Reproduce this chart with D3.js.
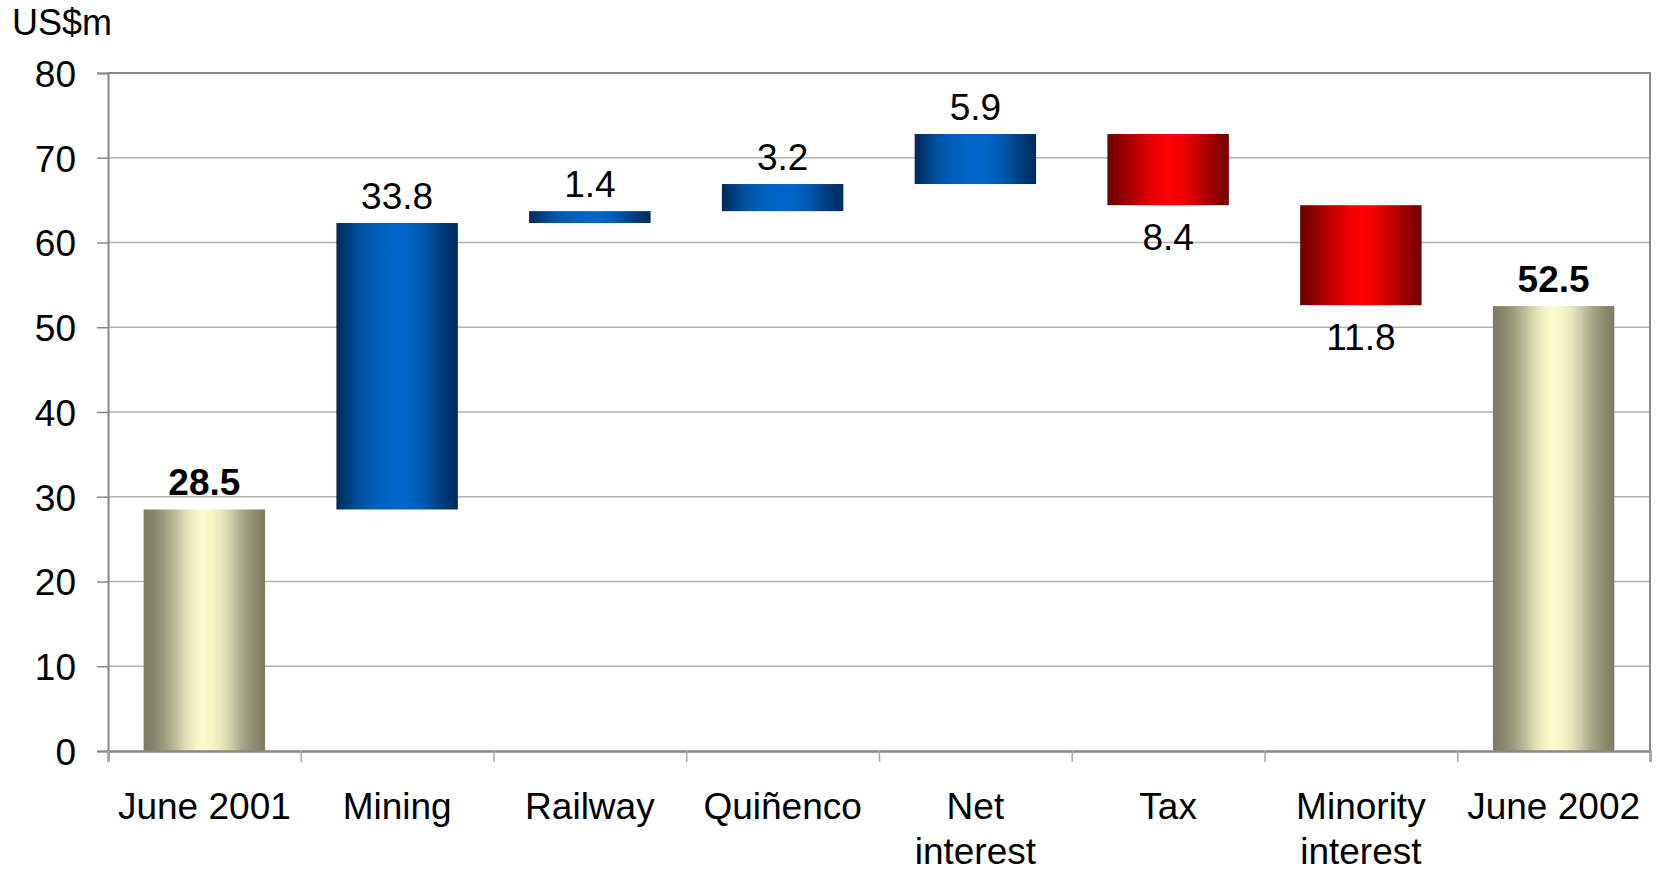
<!DOCTYPE html>
<html>
<head>
<meta charset="utf-8">
<script src="https://cdn.jsdelivr.net/npm/d3@7"></script>
<style>
  body { margin: 0; background: #fff; }
  svg text { font-family: "Liberation Sans", Arial, sans-serif; fill: #000; }
</style>
</head>
<body>
<div id="chart"></div>
<script>
// ---------------------------------------------------------------------
// data
var categories = ["June 2001", "Mining", "Railway", "Quiñenco", "Net\ninterest", "Tax", "Minority\ninterest", "June 2002"];
var startValue = 28.5;
var changes = [33.8, 1.4, 3.2, 5.9, -8.4, -11.8];
var endValue = 52.5;
var yTicks = [0, 10, 20, 30, 40, 50, 60, 70, 80];
var unitLabel = "US$m";

// ---------------------------------------------------------------------
// layout
var margin = { left:108, right:6, top:73, bottom:121 };
var size = { width:1656, height:872 };
var w = size.width - margin.left - margin.right;
var h = size.height - margin.top - margin.bottom;

// build the waterfall rows
var rows = [];
var running = startValue;
rows.push({ cat: categories[0], lo: 0, hi: startValue, value: startValue, kind: "total" });
changes.forEach(function(c, i) {
    var next = running + c;
    rows.push({ cat: categories[i + 1], lo: Math.min(running, next), hi: Math.max(running, next),
                value: c, kind: c >= 0 ? "up" : "down" });
    running = next;
});
rows.push({ cat: categories[categories.length - 1], lo: 0, hi: endValue, value: endValue, kind: "total" });

var svg = d3.select("#chart").append("svg")
    .attr("width", size.width)
    .attr("height", size.height);

// gradients
var defs = svg.append("defs");
function addGrad(id, stops) {
    var g = defs.append("linearGradient").attr("id", id)
        .attr("x1", "0%").attr("x2", "100%").attr("y1", "0%").attr("y2", "0%");
    stops.forEach(function(s) {
        g.append("stop").attr("offset", s[0] + "%").attr("stop-color", s[1]);
    });
}
addGrad("gTotal", [[0,"#7b7b60"],[8,"#85856a"],[16,"#9a9a7b"],[26,"#bcbb97"],[34,"#dcdbb2"],[42,"#f3f1c6"],[48,"#fdfbcc"],[56,"#f8f6c8"],[64,"#e9e7bd"],[72,"#cfceaa"],[80,"#adac8c"],[90,"#8e8e72"],[100,"#7b7b60"]]);
addGrad("gUp", [[0,"#002a5c"],[6,"#003670"],[18,"#00509e"],[32,"#005fbc"],[55,"#0066cc"],[70,"#005bb6"],[86,"#003f80"],[100,"#002a5c"]]);
addGrad("gDown", [[0,"#6e0000"],[10,"#8a0000"],[25,"#c00000"],[40,"#f00000"],[50,"#ff0000"],[62,"#f20000"],[78,"#b80000"],[100,"#6e0000"]]);
var gradFor = { total: "url(#gTotal)", up: "url(#gUp)", down: "url(#gDown)" };

var g = svg.append("g")
    .attr("transform", "translate(" + margin.left + "," + margin.top + ")");

// scales
var x = d3.scaleBand().domain(categories).range([0, w]).padding(0);
var xIdx = d3.scaleLinear().domain([0, categories.length]).range([0, w]);
var y = d3.scaleLinear().domain([0, 80]).range([h, 0]);
var barW = x.bandwidth() * 0.63;

// gridlines
g.append("g").selectAll("line")
    .data(yTicks.slice(1, -1))
    .enter().append("line")
    .attr("x1", 0).attr("x2", w)
    .attr("y1", function(d){ return y(d); })
    .attr("y2", function(d){ return y(d); })
    .attr("stroke", "#b4b4b4").attr("stroke-width", 1.5);

// plot border top / right
g.append("path")
    .attr("d", "M0," + y(80) + "H" + w + "V" + h)
    .attr("fill", "none").attr("stroke", "#888").attr("stroke-width", 2);

// bars
g.selectAll(".bar")
    .data(rows)
    .enter().append("rect")
    .attr("class", "bar")
    .attr("x", function(d){ return x(d.cat) + (x.bandwidth() - barW) / 2; })
    .attr("width", barW)
    .attr("y", function(d){ return y(d.hi); })
    .attr("height", function(d){ return y(d.lo) - y(d.hi); })
    .attr("fill", function(d){ return gradFor[d.kind]; });

// y axis
var yAxis = g.append("g")
    .call(d3.axisLeft(y).tickValues(yTicks).tickSize(11).tickPadding(21).tickFormat(d3.format("d")));
yAxis.select(".domain").attr("stroke", "#888").attr("stroke-width", 2);
yAxis.selectAll(".tick line").attr("stroke", "#888").attr("stroke-width", 1.5);
yAxis.selectAll(".tick text")
    .style("font-size", "37px")
    .attr("dy", "0.36em");

// x axis: boundary ticks
var xAxis = g.append("g")
    .attr("transform", "translate(0," + h + ")")
    .call(d3.axisBottom(xIdx).tickValues(d3.range(categories.length + 1)).tickSize(11).tickFormat(""));
xAxis.select(".domain").attr("stroke", "#888").attr("stroke-width", 2.5);
xAxis.selectAll(".tick line").attr("stroke", "#aaa").attr("stroke-width", 1.5);

// x axis labels
var xLab = g.append("g")
    .attr("transform", "translate(0," + h + ")")
    .call(d3.axisBottom(x).tickSize(0).tickFormat(""));
xLab.select(".domain").remove();
xLab.selectAll(".tick").each(function(d) {
    var t = d3.select(this).append("text")
        .attr("text-anchor", "middle")
        .style("font-size", "37px")
        .attr("y", 68);
    d.split("\n").forEach(function(line, i) {
        t.append("tspan").attr("x", 0).attr("dy", i === 0 ? 0 : 45).text(line);
    });
});

// value labels
g.selectAll(".val")
    .data(rows)
    .enter().append("text")
    .attr("class", "val")
    .attr("text-anchor", "middle")
    .style("font-size", "37px")
    .style("font-weight", function(d){ return d.kind === "total" ? "bold" : "normal"; })
    .attr("x", function(d){ return x(d.cat) + x.bandwidth() / 2; })
    .attr("y", function(d){ return d.kind === "down" ? y(d.lo) + 45 : y(d.hi) - 14; })
    .text(function(d){ return d3.format(".1f")(Math.abs(d.value)); });

// unit label
svg.append("text")
    .attr("x", 12).attr("y", 35)
    .style("font-size", "36px")
    .text(unitLabel);
</script>
</body>
</html>
